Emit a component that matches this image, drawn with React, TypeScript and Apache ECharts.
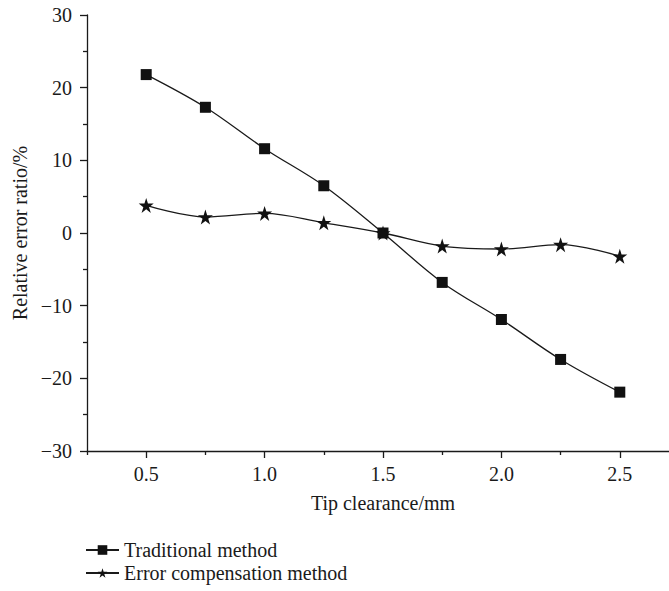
import React, { useEffect, useRef } from "react";
import * as echarts from "echarts";

const xValues = [0.5, 0.75, 1.0, 1.25, 1.5, 1.75, 2.0, 2.25, 2.5];
const traditional = [21.8, 17.3, 11.6, 6.5, 0.0, -6.8, -11.9, -17.4, -21.9];
const compensation = [3.8, 2.2, 2.7, 1.4, 0.0, -1.8, -2.2, -1.6, -3.2];
const xMajorTicks = [0.5, 1.0, 1.5, 2.0, 2.5];
const xMinorTicks = [0.25, 0.75, 1.25, 1.75, 2.25, 2.75];
const seriesNames = ["Traditional method", "Error compensation method"];

const STAR = "path://M50,0 L61.2,34.5 L97.6,34.5 L68.2,55.9 L79.4,90.5 L50,69.1 L20.6,90.5 L31.8,55.9 L2.4,34.5 L38.8,34.5 Z";
const FONT = "Liberation Serif";
const INK = "#1a1a1a";

export default function App() {
  const ref = useRef<HTMLDivElement>(null);
  useEffect(() => {
    if (!ref.current) return;
    const chart = echarts.init(ref.current, null, { renderer: "svg" });
    const fmtY = (v: number) => (v < 0 ? "\u2212" + Math.abs(v) : String(v));
    chart.setOption({
      animation: false,
      backgroundColor: "#ffffff",
      textStyle: { fontFamily: FONT, color: INK },
      grid: { left: 87, top: 15, right: 0, bottom: 140, containLabel: false },
      legend: {
        orient: "vertical",
        left: 85,
        top: 540,
        padding: 0,
        itemWidth: 33,
        itemHeight: 12,
        itemGap: 3,
        textStyle: { fontFamily: FONT, fontSize: 20, color: INK },
        data: seriesNames,
      },
      xAxis: [
        {
          type: "value",
          min: 0.25,
          max: 2.75,
          position: "bottom",
          name: "Tip clearance/mm",
          nameLocation: "middle",
          nameGap: 42,
          nameTextStyle: { fontFamily: FONT, fontSize: 20, color: INK },
          axisLine: { show: true, onZero: false, lineStyle: { color: INK, width: 1.3 } },
          axisTick: { show: true, customValues: xMajorTicks, length: 7, lineStyle: { color: INK, width: 1.3 } },
          axisLabel: {
            customValues: xMajorTicks,
            formatter: (v: number) => v.toFixed(1),
            fontFamily: FONT,
            fontSize: 20,
            color: INK,
            margin: 13,
          },
          splitLine: { show: false },
        },
        {
          type: "value",
          min: 0.25,
          max: 2.75,
          position: "bottom",
          axisLine: { show: false, onZero: false },
          axisTick: { show: true, customValues: xMinorTicks, length: 4, lineStyle: { color: INK, width: 1.3 } },
          axisLabel: { show: false },
          splitLine: { show: false },
        },
      ],
      yAxis: {
        type: "value",
        min: -30,
        max: 30,
        interval: 10,
        name: "Relative error ratio/%",
        nameLocation: "middle",
        nameGap: 56,
        nameTextStyle: { fontFamily: FONT, fontSize: 20, color: INK },
        axisLine: { show: true, onZero: false, lineStyle: { color: INK, width: 1.3 } },
        axisTick: { show: true, length: 7, lineStyle: { color: INK, width: 1.3 } },
        minorTick: { show: true, splitNumber: 2, length: 4, lineStyle: { color: INK, width: 1.3 } },
        axisLabel: { formatter: fmtY, fontFamily: FONT, fontSize: 20, color: INK, margin: 15 },
        splitLine: { show: false },
      },
      series: [
        {
          name: seriesNames[0],
          type: "line",
          smooth: 0.35,
          symbol: "rect",
          symbolSize: 11,
          xAxisIndex: 0,
          data: xValues.map((x, i) => [x, traditional[i]]),
          lineStyle: { color: INK, width: 1.3 },
          itemStyle: { color: "#111111", borderWidth: 0 },
        },
        {
          name: seriesNames[1],
          type: "line",
          smooth: 0.35,
          symbol: STAR,
          symbolSize: 15,
          xAxisIndex: 0,
          data: xValues.map((x, i) => [x, compensation[i]]),
          lineStyle: { color: INK, width: 1.3 },
          itemStyle: { color: "#111111", borderWidth: 0 },
        },
      ],
    });
    return () => chart.dispose();
  }, []);
  return (
    <div style={{ position: "absolute", left: 0, top: 0, width: 669, height: 591, overflow: "hidden", background: "#fff" }}>
      <div ref={ref} style={{ position: "absolute", left: 0, top: 0, width: 679, height: 591 }} />
    </div>
  );
}
